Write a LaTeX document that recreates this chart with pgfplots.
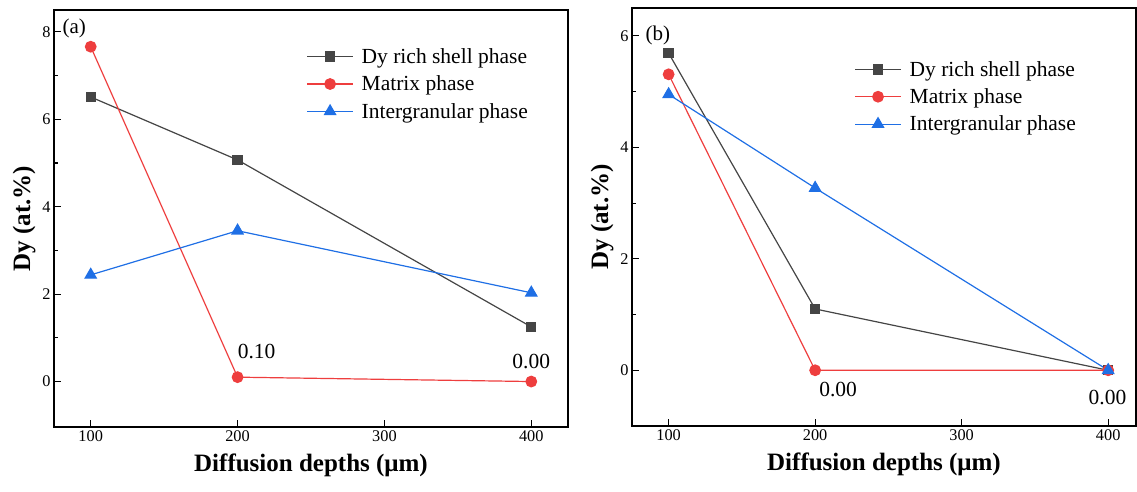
\documentclass[border=0pt]{standalone}
\usepackage{pgfplots}
\pgfplotsset{compat=1.18}
\usepackage{fontspec}
\setmainfont{Liberation Serif}
\definecolor{cgray}{HTML}{454545}
\definecolor{cred}{HTML}{EE3E3E}
\definecolor{cblue}{HTML}{1F6FE5}
\newcommand{\tk}[1]{\mbox{\fontsize{16.3}{17}\selectfont #1}}
\newcommand{\an}[1]{\mbox{\fontsize{21.5}{22}\selectfont #1}}
\pgfplotsset{
  myax/.style={
    scale only axis,
    axis line style={line width=1.2pt},
    tick style={line width=1.1pt, black},
    tick align=inside, xtick pos=bottom, ytick pos=left,
    major tick length=7pt, minor tick length=4pt,
    minor y tick num=1,
    xtick={100,200,300,400},
    /pgf/number format/assume math mode=true,
    xticklabel={\tk{\pgfmathprintnumber{\tick}}},
    yticklabel={\tk{\pgfmathprintnumber{\tick}}},
    label style={font=\fontsize{25}{27}\selectfont\bfseries},
    xlabel style={yshift=-5pt},
    xlabel={Diffusion depths (μm)},
    ylabel={Dy (at.\%)},
    legend style={draw=none, fill=none, font=\fontsize{21.5}{22}\selectfont, row sep=7pt, anchor=north west,
      /tikz/every odd column/.append style={column sep=6pt}},
    legend cell align=left,
    legend image code/.code={\draw[mark repeat=2,mark phase=2] plot coordinates {(0pt,0pt) (23pt,0pt) (46pt,0pt)};},
  },
  sgray/.style={color=cgray, line width=1.2pt, mark=square*, mark size=4.6pt, mark options={solid, fill=cgray}},
  sred/.style={color=cred, line width=1.2pt, mark=*, mark size=5.3pt, mark options={solid, fill=cred}},
  sblue/.style={color=cblue, line width=1.2pt, mark=triangle*, mark size=6.4pt, mark options={solid, fill=cblue}},
}
\begin{document}
\begin{tikzpicture}
\path[use as bounding box] (0pt,0pt) rectangle (1137pt,492pt);
\begin{axis}[myax, at={(54pt,65pt)}, anchor=south west, width=514pt, height=417pt,
  xmin=75, xmax=425, ymin=-1.04, ymax=8.5, ytick={0,2,4,6,8},
  legend style={at={(axis description cs:0.485,0.918)}}]
\addplot[sgray] coordinates {(100,6.51) (200,5.07) (400,1.25)};
\addlegendentry{Dy rich shell phase}
\addplot[sred] coordinates {(100,7.66) (200,0.10) (400,0.00)};
\addlegendentry{Matrix phase}
\addplot[sblue] coordinates {(100,2.44) (200,3.45) (400,2.03)};
\addlegendentry{Intergranular phase}
\node at (axis cs:213,0.68) {\an{0.10}};
\node at (axis cs:400,0.45) {\an{0.00}};
\node[font=\fontsize{21}{22}\selectfont, anchor=west] at (axis description cs:0.01,0.955) {(a)};
\end{axis}
\begin{axis}[myax, at={(632pt,66pt)}, anchor=south west, width=504pt, height=418pt,
  xmin=75, xmax=419, ymin=-1, ymax=6.5, ytick={0,2,4,6},
  legend style={at={(axis description cs:0.435,0.883)}}]
\addplot[sgray] coordinates {(100,5.69) (200,1.10) (400,0.00)};
\addlegendentry{Dy rich shell phase}
\addplot[sred] coordinates {(100,5.31) (200,0.00) (400,0.00)};
\addlegendentry{Matrix phase}
\addplot[sblue] coordinates {(100,4.95) (200,3.27) (400,0.00)};
\addlegendentry{Intergranular phase}
\node at (axis cs:215.7,-0.34) {\an{0.00}};
\node at (axis cs:399.5,-0.48) {\an{0.00}};
\node[font=\fontsize{21}{22}\selectfont, anchor=west] at (axis description cs:0.02,0.935) {(b)};
\end{axis}
\end{tikzpicture}
\end{document}
